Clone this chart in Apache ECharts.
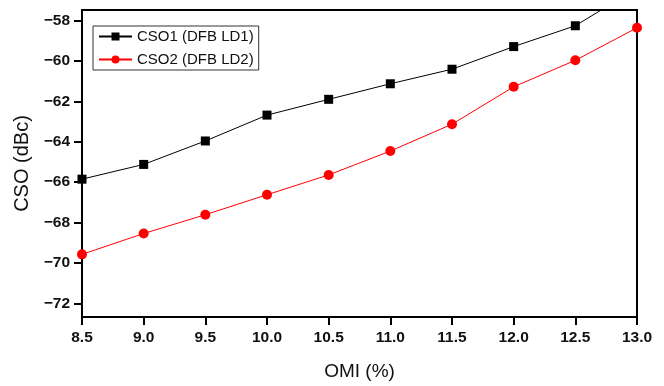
<!DOCTYPE html>
<html>
<head>
<meta charset="utf-8">
<script src="https://cdn.jsdelivr.net/npm/echarts@6/dist/echarts.min.js"></script>
<style>
html,body{margin:0;padding:0;background:#fff;}
#chart{width:664px;height:386px;}
</style>
</head>
<body>
<div id="chart"></div>
<script>
const omi = [8.5, 9.0, 9.5, 10.0, 10.5, 11.0, 11.5, 12.0, 12.5, 13.0];
const cso1 = [-65.85, -65.12, -63.96, -62.68, -61.9, -61.13, -60.41, -59.29, -58.26, -56.4];
const cso2 = [-69.57, -68.54, -67.61, -66.62, -65.64, -64.46, -63.13, -61.28, -59.97, -58.36];
const yTicks = [-72, -70, -68, -66, -64, -62, -60, -58];
const xTicks = [8.5, 9.0, 9.5, 10.0, 10.5, 11.0, 11.5, 12.0, 12.5, 13.0];

const font = '"Liberation Sans", Arial, Helvetica, sans-serif';
const chart = echarts.init(document.getElementById('chart'));
chart.setOption({
  animation: false,
  backgroundColor: '#fff',
  textStyle: { fontFamily: font },
  grid: { left: 82, right: 27, top: 10, bottom: 67, show: true, borderColor: '#000', borderWidth: 2, backgroundColor: 'transparent' },
  legend: {
    orient: 'vertical',
    left: 93, top: 26,
    padding: [3, 5, 3, 5],
    itemGap: 8,
    itemWidth: 33, itemHeight: 10,
    borderColor: '#333', borderWidth: 1,
    backgroundColor: '#fff',
    textStyle: { fontFamily: font, fontSize: 15, color: '#111' },
    data: ['CSO1 (DFB LD1)', 'CSO2 (DFB LD2)']
  },
  xAxis: {
    type: 'value',
    min: 8.5, max: 13.0, interval: 0.5,
    name: 'OMI (%)',
    nameLocation: 'middle',
    nameGap: 45,
    nameTextStyle: { fontFamily: font, fontSize: 19, color: '#111' },
    axisLine: { show: true, lineStyle: { color: '#000', width: 2 } },
    axisTick: { show: true, inside: false, length: 8, lineStyle: { color: '#000', width: 2 } },
    axisLabel: {
      margin: 13, fontFamily: font, fontSize: 15.5, fontWeight: 'bold', color: '#111',
      customValues: xTicks,
      formatter: v => v.toFixed(1)
    },
    splitLine: { show: false }
  },
  yAxis: {
    type: 'value',
    min: -72.67, max: -57.48,
    name: 'CSO (dBc)',
    nameLocation: 'middle',
    nameGap: 49,
    nameTextStyle: { fontFamily: font, fontSize: 20, color: '#111' },
    axisLine: { show: true, lineStyle: { color: '#000', width: 2 } },
    axisTick: { show: true, inside: false, length: 8, lineStyle: { color: '#000', width: 2 }, customValues: yTicks },
    axisLabel: {
      margin: 12, fontFamily: font, fontSize: 15.5, fontWeight: 'bold', color: '#111',
      customValues: yTicks,
      formatter: v => String(Math.round(v)).replace('-', '\u2212')
    },
    splitLine: { show: false }
  },
  series: [
    {
      name: 'CSO1 (DFB LD1)',
      type: 'line',
      data: omi.map((x, i) => [x, cso1[i]]),
      symbol: 'rect', symbolSize: 9,
      itemStyle: { color: '#000' },
      lineStyle: { color: '#000', width: 1 },
      clip: true
    },
    {
      name: 'CSO2 (DFB LD2)',
      type: 'line',
      data: omi.map((x, i) => [x, cso2[i]]),
      symbol: 'circle', symbolSize: 10,
      itemStyle: { color: '#ff0000' },
      lineStyle: { color: '#ff0000', width: 1 },
      clip: true
    }
  ]
});
</script>
</body>
</html>
